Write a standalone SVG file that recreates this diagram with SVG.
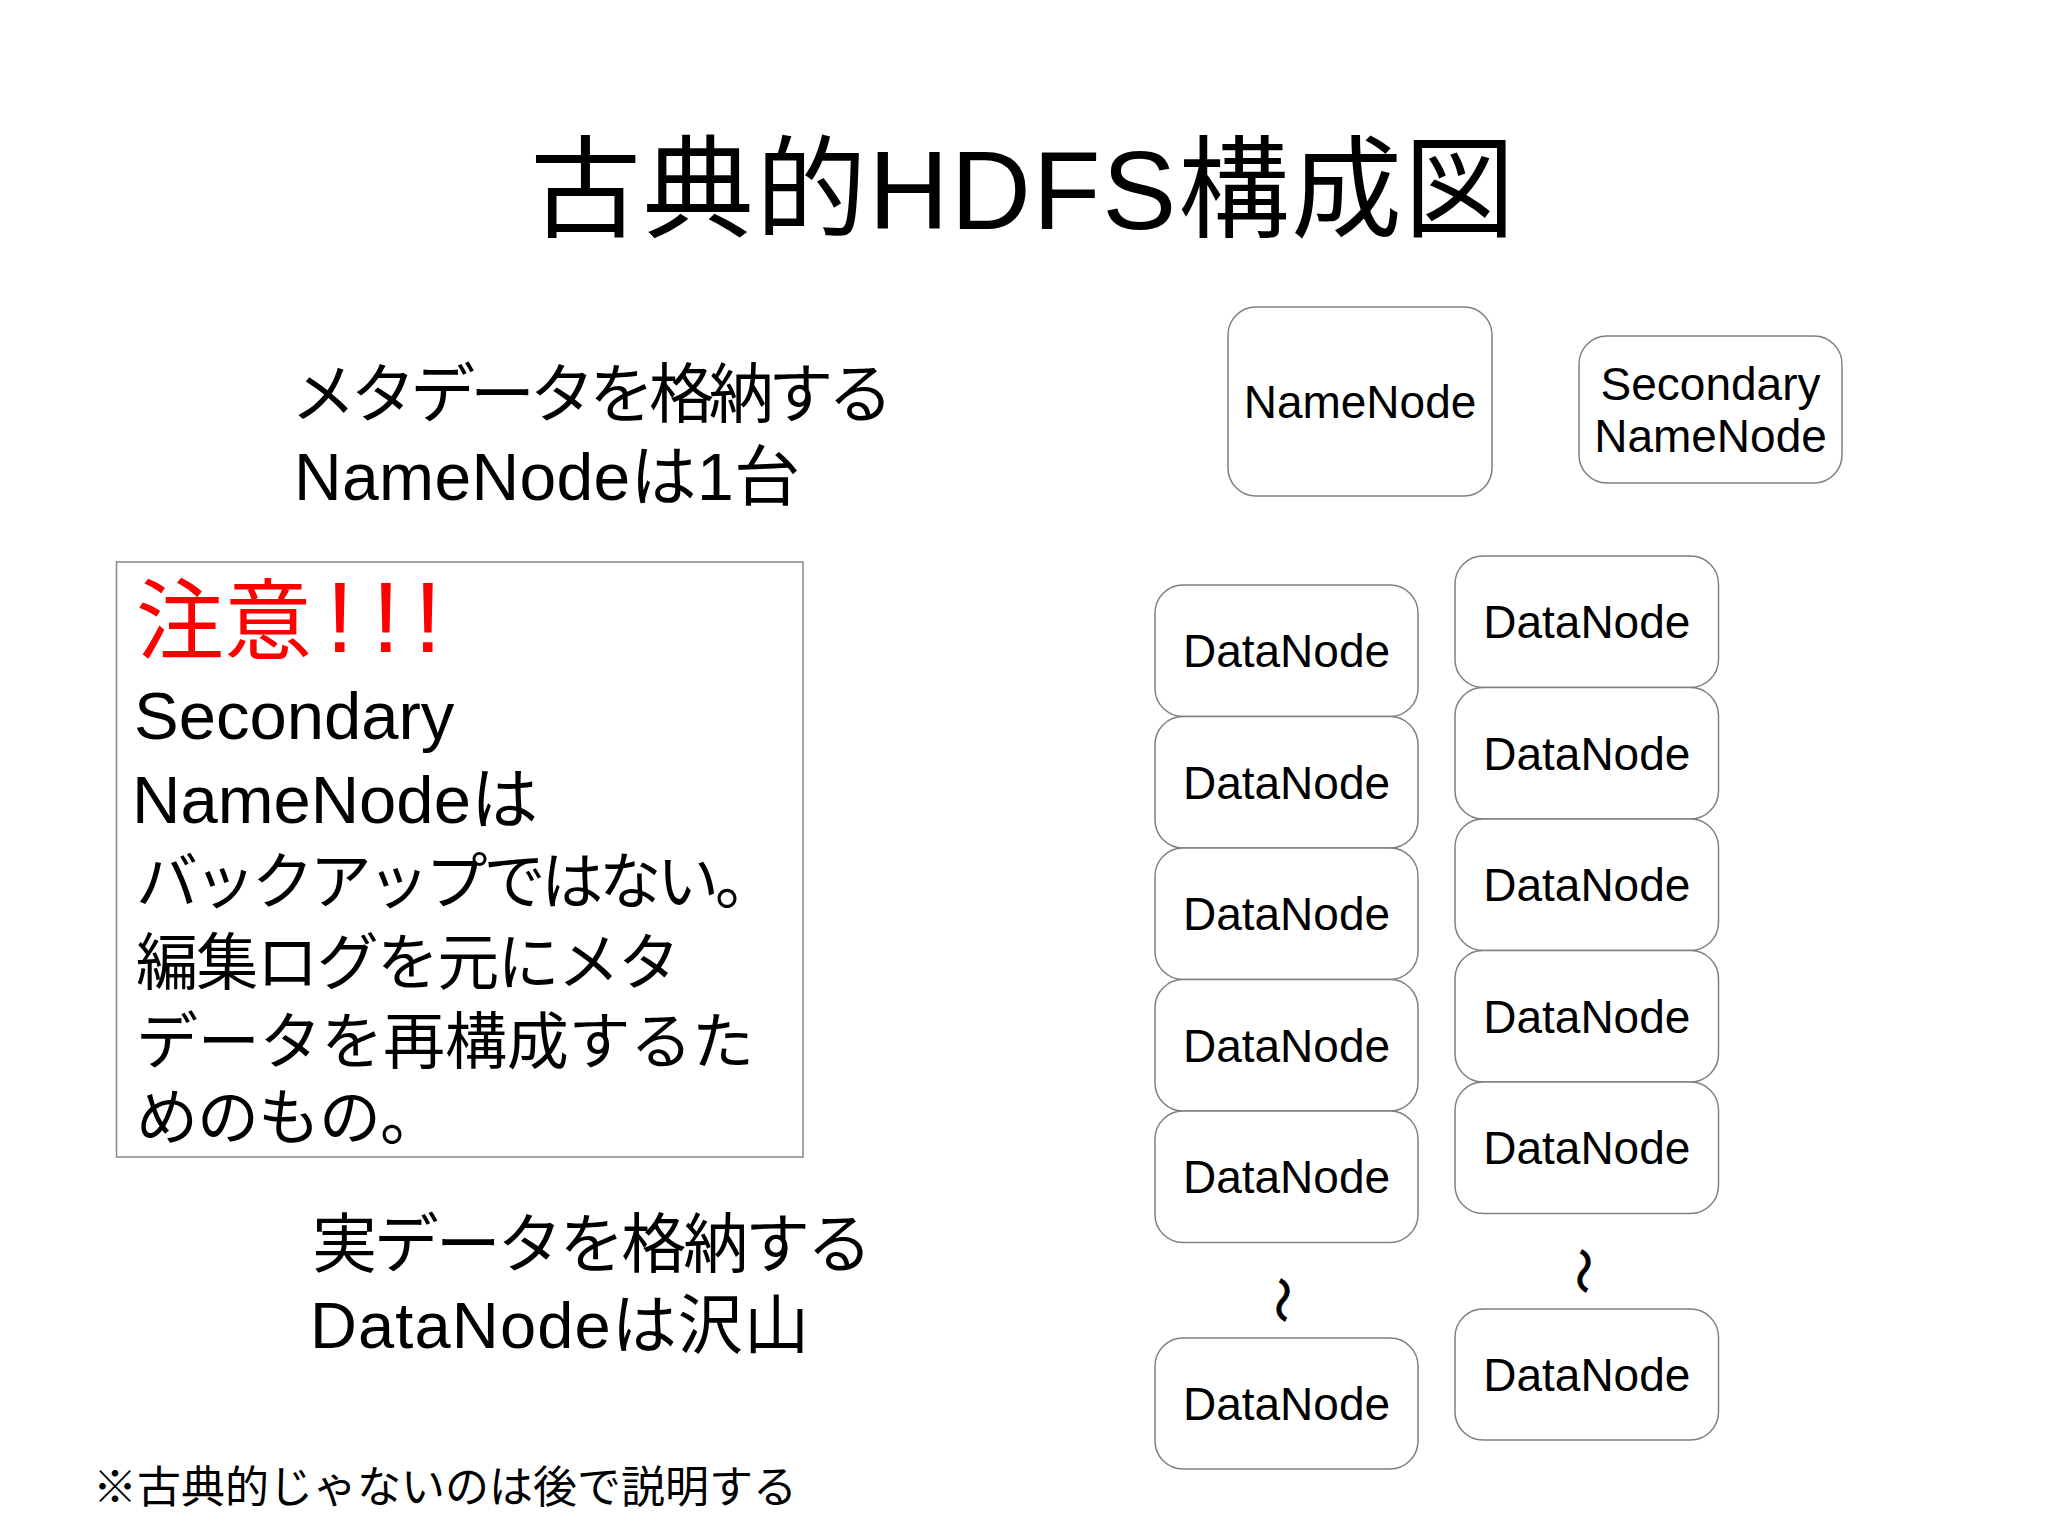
<svg xmlns="http://www.w3.org/2000/svg" width="2048" height="1535" viewBox="0 0 2048 1535">
<style>
.box{fill:#fff;stroke:#808080;stroke-width:1.5}
.lbl{font-family:"Liberation Sans","Noto Sans CJK JP",sans-serif;font-size:46px;fill:#000;text-anchor:middle}
.t{font-family:"Liberation Sans","Noto Sans CJK JP",sans-serif;fill:#000}
.wave{font-family:"Noto Sans CJK JP",sans-serif;font-size:46px;fill:#000;stroke:#000;stroke-width:1.2;text-anchor:middle;dominant-baseline:central}
</style>
<rect width="2048" height="1535" fill="#fff"/>
<g id="title"><text class="t" x="530" y="229" font-size="111" textLength="985">古典的HDFS構成図</text></g>
<g id="namenode-desc">
<text class="t" x="291" y="417" font-size="65" textLength="602">メタデータを格納する</text>
<text class="t" x="294" y="500" font-size="66" textLength="506">NameNodeは1台</text>
</g>
<g id="note">
<rect x="116.5" y="562" width="686.5" height="595" fill="#fff" stroke="#888" stroke-width="1.5"/>
<text class="t" x="136" y="652" font-size="88" style="fill:#ff0000">注意<tspan x="326" font-size="100">!</tspan><tspan x="372" font-size="100">!</tspan><tspan x="414" font-size="100">!</tspan></text>
<text class="t" x="134" y="739" font-size="67">Secondary</text>
<text class="t" x="132" y="823" font-size="67">NameNodeは</text>
<text class="t" x="136" y="904" font-size="62" textLength="641">バックアップではない。</text>
<text class="t" x="136" y="985" font-size="62" textLength="544">編集ログを元にメタ</text>
<text class="t" x="136" y="1064" font-size="62" textLength="618">データを再構成するた</text>
<text class="t" x="136" y="1140" font-size="62" textLength="306">めのもの。</text>
</g>
<g id="datanode-desc">
<text class="t" x="312" y="1267" font-size="65" textLength="560">実データを格納する</text>
<text class="t" x="310" y="1348" font-size="65" textLength="499">DataNodeは沢山</text>
</g>
<g id="footnote"><text class="t" x="93" y="1503" font-size="44">※古典的じゃないのは後で説明する</text></g>
<g id="connectors"></g>
<g id="namenode"><rect class="box" x="1228" y="307" width="264" height="189" rx="28"/><text class="lbl" x="1360" y="418">NameNode</text></g>
<g id="secondary-namenode"><rect class="box" x="1579" y="336" width="263" height="147" rx="28"/><text class="lbl" x="1710.5" y="400">Secondary</text><text class="lbl" x="1710.5" y="452">NameNode</text></g>
<g id="dn-a1"><rect class="box" x="1155" y="585" width="263" height="131.5" rx="28"/><text class="lbl" x="1286.5" y="667.3">DataNode</text></g>
<g id="dn-a2"><rect class="box" x="1155" y="716.5" width="263" height="131.5" rx="28"/><text class="lbl" x="1286.5" y="798.8">DataNode</text></g>
<g id="dn-a3"><rect class="box" x="1155" y="848" width="263" height="131.5" rx="28"/><text class="lbl" x="1286.5" y="930.3">DataNode</text></g>
<g id="dn-a4"><rect class="box" x="1155" y="979.5" width="263" height="131.5" rx="28"/><text class="lbl" x="1286.5" y="1061.8">DataNode</text></g>
<g id="dn-a5"><rect class="box" x="1155" y="1111" width="263" height="131.5" rx="28"/><text class="lbl" x="1286.5" y="1193.3">DataNode</text></g>
<g id="dn-a-gap"><text class="wave" x="1286" y="1300" transform="rotate(90 1286 1300)">〜</text></g>
<g id="dn-a6"><rect class="box" x="1155" y="1338" width="263" height="131" rx="28"/><text class="lbl" x="1286.5" y="1420">DataNode</text></g>
<g id="dn-b1"><rect class="box" x="1455" y="556" width="263.5" height="131.5" rx="28"/><text class="lbl" x="1586.8" y="638.3">DataNode</text></g>
<g id="dn-b2"><rect class="box" x="1455" y="687.5" width="263.5" height="131.5" rx="28"/><text class="lbl" x="1586.8" y="769.8">DataNode</text></g>
<g id="dn-b3"><rect class="box" x="1455" y="819" width="263.5" height="131.5" rx="28"/><text class="lbl" x="1586.8" y="901.3">DataNode</text></g>
<g id="dn-b4"><rect class="box" x="1455" y="950.5" width="263.5" height="131.5" rx="28"/><text class="lbl" x="1586.8" y="1032.8">DataNode</text></g>
<g id="dn-b5"><rect class="box" x="1455" y="1082" width="263.5" height="131.5" rx="28"/><text class="lbl" x="1586.8" y="1164.3">DataNode</text></g>
<g id="dn-b-gap"><text class="wave" x="1587" y="1271" transform="rotate(90 1587 1271)">〜</text></g>
<g id="dn-b6"><rect class="box" x="1455" y="1309" width="263.5" height="131" rx="28"/><text class="lbl" x="1586.8" y="1391">DataNode</text></g>
</svg>
